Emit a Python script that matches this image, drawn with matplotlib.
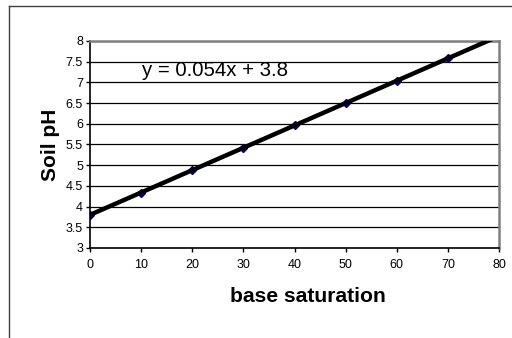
import matplotlib
matplotlib.use("Agg")
import matplotlib.pyplot as plt
from matplotlib.lines import Line2D
import numpy as np

# data
base_saturation = [0, 10, 20, 30, 40, 50, 60, 70]
soil_ph = [3.8, 4.34, 4.88, 5.42, 5.96, 6.50, 7.04, 7.58]
slope = 0.054
intercept = 3.8
x_ticks = [0, 10, 20, 30, 40, 50, 60, 70, 80]
y_ticks = [3, 3.5, 4, 4.5, 5, 5.5, 6, 6.5, 7, 7.5, 8]
equation = "y = 0.054x + 3.8"

plt.rcParams['font.family'] = ['Liberation Sans', 'DejaVu Sans']

W, H = 512, 338
fig = plt.figure(figsize=(W/100, H/100), dpi=100)
ax = fig.add_axes([90/W, 1-248/H, (499-90)/W, (248-41)/H])

# outer chart border
fig.add_artist(Line2D([9/W, 9/W], [0, 1-6/H], transform=fig.transFigure, color='#404040', lw=1))
fig.add_artist(Line2D([9/W, 1], [1-6/H, 1-6/H], transform=fig.transFigure, color='#404040', lw=1))

ax.set_xlim(0, 80)
ax.set_ylim(3, 8)
ax.set_xticks(x_ticks)
ax.set_yticks(y_ticks)
ax.set_yticklabels([f"{v:g}" for v in y_ticks])
ax.yaxis.grid(True, color='black', lw=0.9)
ax.set_axisbelow(True)

xs = np.array([0, 80])
ax.plot(xs, slope*xs + intercept, color='black', lw=3.2, solid_capstyle='butt', zorder=3)
ax.plot(base_saturation, soil_ph, linestyle='none', marker='D', color='#000080', markersize=4, zorder=2)

ax.text(10.2, 7.28, equation, fontsize=14.7, va='center', ha='left')

for s in ['left', 'bottom']:
    ax.spines[s].set_color('black')
    ax.spines[s].set_linewidth(1.2)
for s in ['top', 'right']:
    ax.spines[s].set_color('#808080')
    ax.spines[s].set_linewidth(1.8)

ax.tick_params(direction='out', length=3, width=1, labelsize=9, pad=2)
ax.tick_params(axis='x', pad=5)
ax.set_xlabel('base saturation', fontsize=15.2, fontweight='bold', labelpad=8)
ax.xaxis.set_label_coords((308-90)/409, -(296-248)/207, transform=ax.transAxes)
ax.xaxis.label.set_va('center')
ax.set_ylabel('Soil pH', fontsize=15, fontweight='bold', labelpad=4)

fig.savefig('out.png', dpi=100)
